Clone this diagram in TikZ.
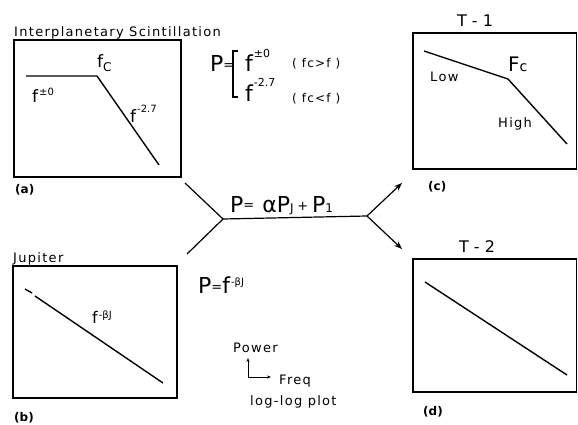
\documentclass[tikz,border=0pt]{standalone}
\usepackage{fontspec}
\setmainfont{DejaVu Sans}
\newfontfamily\lsf[LetterSpace=10]{DejaVu Sans}
\usetikzlibrary{arrows.meta}
\newcommand\fsz[1]{\fontsize{#1}{#1}\selectfont}
\newcommand\rsup[3]{\kern1pt\raisebox{#1pt}{\fsz{#2}#3}}
\newcommand\smeq[1]{\raisebox{#1pt}{\fsz{13}=}}
\begin{document}
\begin{tikzpicture}[x=1pt,y=-1pt,
  box/.style={draw, line width=1.3pt},
  curve/.style={line width=1.4pt},
  conn/.style={line width=1.2pt},
  arr/.style={conn, -{Stealth[length=8pt,width=6pt]}},
  txt/.style={anchor=base west, inner sep=0pt, font=\lsf\fsz{13}},
  big/.style={anchor=base west, inner sep=0pt, font=\fsz{22}},
  mid/.style={anchor=base west, inner sep=0pt, font=\fsz{17}},
  tag/.style={anchor=base west, inner sep=0pt, font=\bfseries\fsz{12}}]
\useasboundingbox (0,0) rectangle (578,425);
% ---------- (a) Interplanetary Scintillation
\node[txt] (ta) at (14,37) {Interplanetary Scintillation};
\draw[box] (14,40) rectangle (181,177);
\draw[curve] (26,76) -- (97,76) -- (159,165);
\node[mid] (fca) at (97,68) {f\raisebox{-4pt}{\fsz{12}C}};
\node[mid] (f0a) at (32,103) {f\rsup{8}{10}{±0}};
\node[mid] (f27a) at (130,123) {f\rsup{10}{10}{-2.7}};
\node[tag] (la) at (15,193) {(a)};
% equation for (a)
\node[big] (Pa) at (210,72) {P\smeq{2}};
\draw[line width=1.1pt] (238,51) -- (233,51) -- (233,97) -- (238,97);
\node[big] (e1) at (245,72) {f\rsup{14}{11}{±0}};
\node[txt, font=\lsf\fsz{12}] (c1) at (292,68) {( fc>f )};
\node[big] (e2) at (245,102) {f\rsup{15}{11}{-2.7}};
\node[txt, font=\lsf\fsz{12}] (c2) at (292,103) {( fc<f )};
% ---------- (b) Jupiter
\node[txt] (tb) at (13,262) {Jupiter};
\draw[box] (13,266) rectangle (177,398);
\draw[curve] (25,289) -- (32,293);
\draw[curve] (35,296) -- (163,383);
\node[mid, font=\fsz{16}] (fb) at (92,323) {f\rsup{5}{10}{-βJ}};
\node[tag] (lb) at (14,421) {(b)};
\node[big] (Pb) at (198,293) {P\smeq{1.5}f\rsup{8}{10}{-βJ}};
% ---------- central connector
\coordinate (ul) at (185,183);
\coordinate (dl) at (187,254);
\coordinate (jl) at (223,219);
\coordinate (jr) at (367,216);
\coordinate (ur) at (402,183);
\coordinate (dr) at (402,249);
\draw[conn] (ul) -- (jl) -- (dl);
\draw[conn] (jl) -- (jr);
\draw[arr] (jr) -- (ur);
\draw[arr] (jr) -- (dr);
\node[big] (Pm) at (230,212) {P\smeq{3}\kern8pt{}αP\fsz{12}J \raisebox{1.5pt}{\fsz{13}+} \fsz{22}P\fsz{12}1};
% ---------- (c) T-1
\node[anchor=base, inner sep=0pt, font=\fsz{16}] (t1) at (475,27) {T - 1};
\draw[box] (413,33) rectangle (576.5,169);
\draw[curve] (424,51) -- (508,79) -- (567,144);
\node[big, font=\fsz{20}] (Fc) at (508,72) {F\fsz{14}c};
\node[txt] (low) at (430,82) {Low};
\node[txt] (high) at (498,128) {High};
\node[tag] (lc) at (428,190) {(c)};
% ---------- (d) T-2
\node[anchor=base, inner sep=0pt, font=\fsz{16}] (t2) at (477,252) {T - 2};
\draw[box] (413,259) rectangle (576.5,392);
\draw[curve] (425,282) -- (567,375);
\node[tag] (ld) at (423,415) {(d)};
% ---------- legend
\node[txt] (pw) at (233,352) {Power};
\coordinate (o) at (248,377);
\coordinate (oy) at (248,358);
\coordinate (ox) at (271,377);
\draw[line width=0.9pt, -{Stealth[length=4pt,width=3pt]}] (o) -- (oy);
\draw[line width=0.9pt, -{Stealth[length=4pt,width=3pt]}] (o) -- (ox);
\node[txt] (fq) at (279,384) {Freq};
\node[txt] (ll) at (250,405) {log-log plot};
\end{tikzpicture}
\end{document}
